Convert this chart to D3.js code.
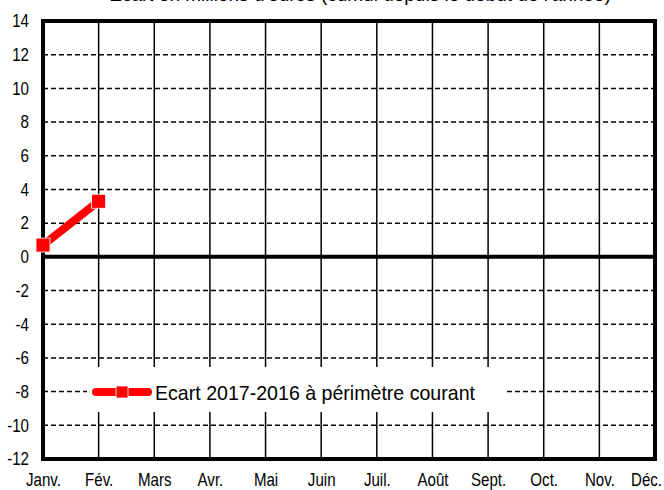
<!DOCTYPE html>
<html>
<head>
<meta charset="utf-8">
<script src="https://cdn.jsdelivr.net/npm/d3@7"></script>
<style>
  html, body { margin: 0; padding: 0; background: #fff; }
  svg { display: block; }
  text { font-family: "Liberation Sans", Arial, sans-serif; fill: #000; }
</style>
</head>
<body>
<svg id="chart" width="664" height="490"></svg>
<script>
const months = ['Janv.', 'Fév.', 'Mars', 'Avr.', 'Mai', 'Juin', 'Juil.', 'Août', 'Sept.', 'Oct.', 'Nov.', 'Déc.'];
const ecartMonths = ['Janv.', 'Fév.'];
const ecartValues = [0.7, 3.3];
const yTicks = [-12, -10, -8, -6, -4, -2, 0, 2, 4, 6, 8, 10, 12, 14];
const titleText = "Ecart en millions d'euros (cumul depuis le début de l'année)";
const legendLabel = 'Ecart 2017-2016 à périmètre courant';

const svg = d3.select('#chart');
const plotL = 43, plotR = 655, plotT = 21, plotB = 459;
const squeeze = 0.84; // labels are drawn in a condensed face

const x = d3.scalePoint().domain(months).range([plotL, plotR]);
const y = d3.scaleLinear().domain([-12, 14]).range([plotB, plotT]);

// title, mostly cut off by the top edge
svg.append('text')
  .attr('x', 360)
  .attr('y', 1)
  .style('text-anchor', 'middle')
  .style('font-size', '19px')
  .text(titleText);

const grid = svg.append('g');

// horizontal dashed gridlines
grid.selectAll('.hgrid')
  .data(yTicks.filter((d) => d !== 0 && d !== -12 && d !== 14))
  .join('line')
  .attr('class', 'hgrid')
  .attr('x1', plotL)
  .attr('x2', plotR)
  .attr('y1', (d) => y(d))
  .attr('y2', (d) => y(d))
  .style('stroke', '#000')
  .style('stroke-width', 1.5)
  .style('stroke-dasharray', '5,3');

// vertical solid gridlines
grid.selectAll('.vgrid')
  .data(months.slice(1, -1))
  .join('line')
  .attr('class', 'vgrid')
  .attr('x1', (d) => x(d))
  .attr('x2', (d) => x(d))
  .attr('y1', plotT)
  .attr('y2', plotB)
  .style('stroke', '#000')
  .style('stroke-width', 1.5);

// plot border
svg.append('rect')
  .attr('x', plotL)
  .attr('y', plotT)
  .attr('width', plotR - plotL)
  .attr('height', plotB - plotT)
  .style('fill', 'none')
  .style('stroke', '#000')
  .style('stroke-width', 4);

// zero line
svg.append('line')
  .attr('x1', plotL)
  .attr('x2', plotR)
  .attr('y1', y(0))
  .attr('y2', y(0))
  .style('stroke', '#000')
  .style('stroke-width', 4);

// y axis labels (plain hyphen, not the unicode minus)
const yAxis = d3.axisLeft(y).tickValues(yTicks).tickSize(0).tickFormat((d) => String(d));
const yG = svg.append('g').attr('transform', `translate(${plotL},0)`).call(yAxis);
yG.select('.domain').remove();
yG.selectAll('text')
  .attr('x', 0)
  .attr('transform', `translate(-14,0) scale(${squeeze},1)`)
  .style('font-size', '18px');

// x axis labels
const xAxis = d3.axisBottom(x).tickSize(0).tickPadding(14);
const xG = svg.append('g').attr('transform', `translate(0,${plotB})`).call(xAxis);
xG.select('.domain').remove();
xG.selectAll('text')
  .attr('transform', `scale(${squeeze},1)`)
  .style('font-size', '18px');
// last label is pulled inside the frame
xG.selectAll('text')
  .filter((d) => d === months[months.length - 1])
  .attr('x', -9 / squeeze);

// series
const pts = ecartMonths.map((m, i) => ({ m, v: ecartValues[i] }));
const line = d3.line().x((d) => x(d.m)).y((d) => y(d.v));

svg.append('path')
  .datum(pts)
  .attr('d', line)
  .style('fill', 'none')
  .style('stroke', '#ff0000')
  .style('stroke-width', 8);

const ms = 14;
svg.selectAll('.marker')
  .data(pts)
  .join('rect')
  .attr('class', 'marker')
  .attr('x', (d) => x(d.m) - ms / 2)
  .attr('y', (d) => y(d.v) - ms / 2)
  .attr('width', ms)
  .attr('height', ms)
  .style('fill', '#ff0000')
  .style('stroke', '#fff')
  .style('stroke-width', 0.8);

// legend
const lg = svg.append('g');
lg.append('rect')
  .attr('x', 87)
  .attr('y', 367)
  .attr('width', 418)
  .attr('height', 45)
  .style('fill', '#fff');

lg.append('line')
  .attr('x1', 96)
  .attr('x2', 148)
  .attr('y1', 392)
  .attr('y2', 392)
  .style('stroke', '#ff0000')
  .style('stroke-width', 8)
  .style('stroke-linecap', 'round');

lg.append('rect')
  .attr('x', 116)
  .attr('y', 386)
  .attr('width', 12)
  .attr('height', 12)
  .style('fill', '#ff0000')
  .style('stroke', '#fff')
  .style('stroke-width', 0.8);

lg.append('text')
  .attr('x', 155)
  .attr('y', 400)
  .attr('textLength', 320)
  .attr('lengthAdjust', 'spacingAndGlyphs')
  .style('font-size', '21px')
  .text(legendLabel);
</script>
</body>
</html>
